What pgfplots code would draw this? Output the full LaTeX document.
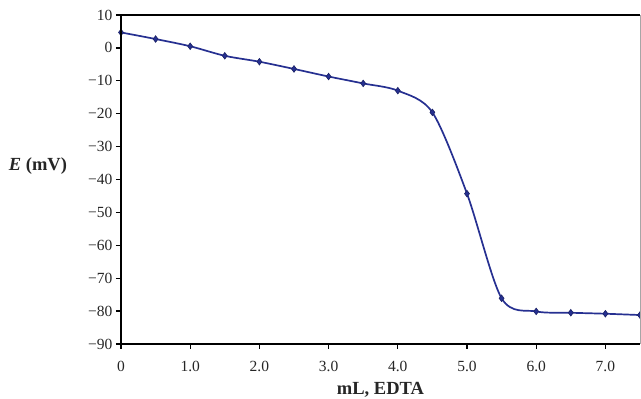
\documentclass[border=0pt]{standalone}
\usepackage{fontspec}
\setmainfont{Liberation Serif}
\usepackage{pgfplots}
\pgfplotsset{compat=1.18}
\definecolor{lc}{RGB}{38,48,145}
\pgfplotstableread{
x y
0 4.7
0.5 2.7
1.0 0.5
1.5 -2.4
2.0 -4.2
2.5 -6.4
3.0 -8.7
3.5 -10.8
4.0 -13.0
4.5 -19.6
5.0 -44.3
5.5 -76.1
6.0 -80.1
6.5 -80.5
7.0 -80.8
7.5 -81.2
}\datatab
\begin{document}
\begin{tikzpicture}[x=1pt,y=1pt]
\begin{axis}[
  at={(0,0)}, anchor=south west,
  scale only axis, width=519pt, height=329pt,
  xmin=0, xmax=7.5, ymin=-90, ymax=10,
  axis line style={draw=none},
  xtick={0,1,2,3,4,5,6,7},
  xticklabels={0,1.0,2.0,3.0,4.0,5.0,6.0,7.0},
  ytick={-90,-80,-70,-60,-50,-40,-30,-20,-10,0,10},
  yticklabels={−90,−80,−70,−60,−50,−40,−30,−20,−10,0,10},
  xtick pos=bottom, ytick pos=left,
  tick align=outside, major tick length=5pt,
  tick style={black, line width=1.2pt},
  ticklabel style={font=\fontsize{15.5}{17}\selectfont, text=black!85},
  yticklabel style={xshift=0pt},
  xticklabel style={yshift=-9pt},
  xlabel={\textbf{mL, EDTA}},
  ylabel={\textbf{\textit{E} (mV)}},
  label style={font=\fontsize{18.5}{20}\selectfont, text=black!85},
  xlabel style={at={(axis description cs:0.5,-0.155)}, anchor=base},
  ylabel style={rotate=-90, at={(axis description cs:-0.16,0.54)}, anchor=center},
  after end axis/.code={
    \draw[black, line width=1.6pt] (rel axis cs:0,1) -- (rel axis cs:1,1);
    \draw[gray!70, line width=0.8pt] (rel axis cs:1,0) -- (rel axis cs:1,1);
    \draw[black, line width=2.2pt] (rel axis cs:0,1) -- (rel axis cs:0,0) -- (rel axis cs:1,0);
  },
]
\addplot[lc, line width=1.7pt, smooth, tension=0.5, mark=diamond*, mark size=3.3pt,
  mark options={solid, fill=lc, draw=lc!70!black, line width=0.6pt}] table[x=x,y=y] {\datatab};
\end{axis}
\pgfresetboundingbox
\path (-121pt,-55pt) rectangle (520pt,344pt);
\end{tikzpicture}
\end{document}
